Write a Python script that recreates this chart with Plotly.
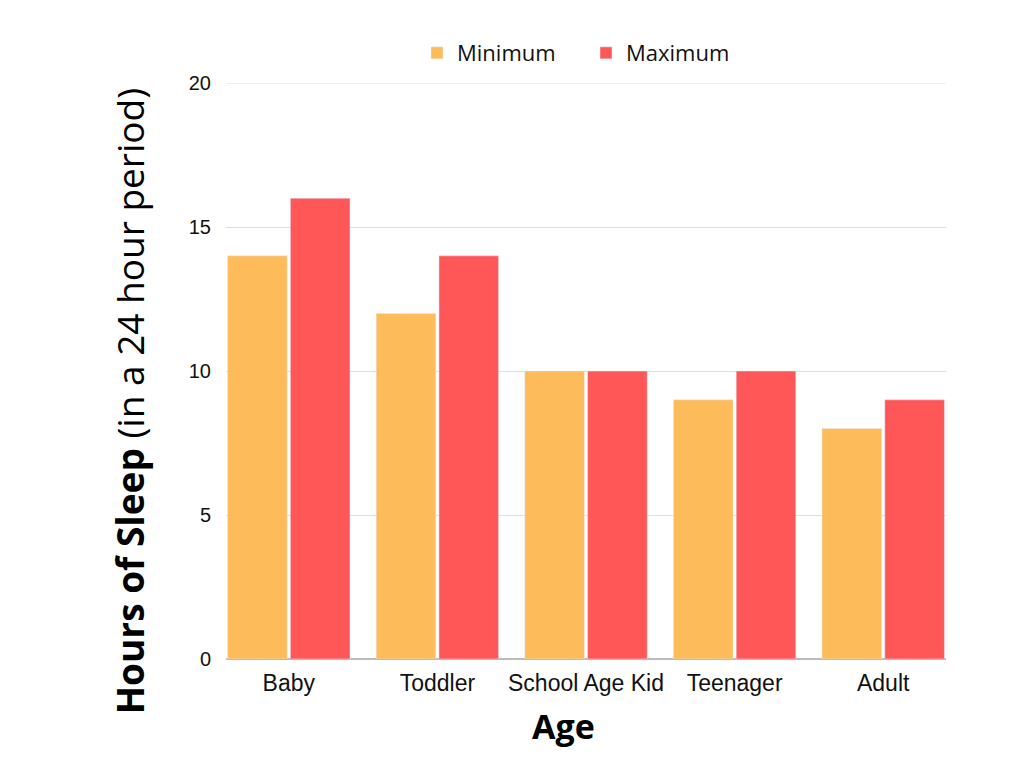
import plotly.graph_objects as go

# Dados
categorias = ["Baby", "Toddler", "School Age Kid", "Teenager", "Adult"]
minimo = [14, 12, 10, 9, 8]
maximo = [16, 14, 10, 10, 9]
ticks_y = [0, 5, 10, 15, 20]

cor_min = "#FDBB5A"
cor_max = "#FF5757"
bargap = 0.155

fig = go.Figure()
fig.add_trace(go.Bar(x=categorias, y=minimo, name="Minimum", marker_color=cor_min))
fig.add_trace(go.Bar(x=categorias, y=maximo, name="Maximum", marker_color=cor_max))

fig.update_layout(
    width=1024,
    height=768,
    paper_bgcolor="white",
    plot_bgcolor="white",
    barmode="group",
    bargap=bargap,
    bargroupgap=0.05,
    margin=dict(l=218, r=86, t=75, b=117),
    font=dict(family="Open Sans, Liberation Sans, sans-serif", color="#111111"),
    legend=dict(
        orientation="h",
        x=0.5, xanchor="center",
        y=1.052, yanchor="middle",
        font=dict(size=22, family="Open Sans, sans-serif"),
        itemwidth=30,
        entrywidth=124,
    ),
    xaxis=dict(
        range=[-0.5 + bargap / 2, len(categorias) - 0.5 - bargap / 2],
        tickfont=dict(size=23, family="Liberation Sans Narrow, Liberation Sans, sans-serif"),
        showgrid=False,
        showline=False,
        ticks="",
        ticklabelstandoff=8,
    ),
    yaxis=dict(
        range=[0, 20],
        tickvals=ticks_y,
        tickfont=dict(size=20, family="Liberation Sans, Arial, sans-serif"),
        showgrid=True,
        gridcolor="#DDDDDD",
        gridwidth=1,
        zeroline=True,
        zerolinecolor="#BBBBBB",
        zerolinewidth=2,
        ticks="",
        ticklabelstandoff=14,
    ),
    # linha de grade do topo (o plotly omite a que fica na borda)
    shapes=[
        dict(
            type="line", xref="paper", yref="y",
            x0=0, x1=1, y0=ticks_y[-1], y1=ticks_y[-1],
            line=dict(color="#DDDDDD", width=1),
            layer="below",
        )
    ],
    annotations=[
        dict(
            text="<b>Hours of Sleep</b> (in a 24 hour period)",
            textangle=-90,
            xref="paper", yref="paper",
            x=-0.133, y=0.448,
            xanchor="center", yanchor="middle",
            showarrow=False,
            font=dict(size=37, family="Open Sans, sans-serif", color="#000000"),
        ),
        dict(
            text="<b>Age</b>",
            xref="paper", yref="paper",
            x=0.469, y=-0.116,
            xanchor="center", yanchor="middle",
            showarrow=False,
            font=dict(size=34, family="Open Sans, sans-serif", color="#000000"),
        ),
    ],
)

fig.write_html("out.html")
